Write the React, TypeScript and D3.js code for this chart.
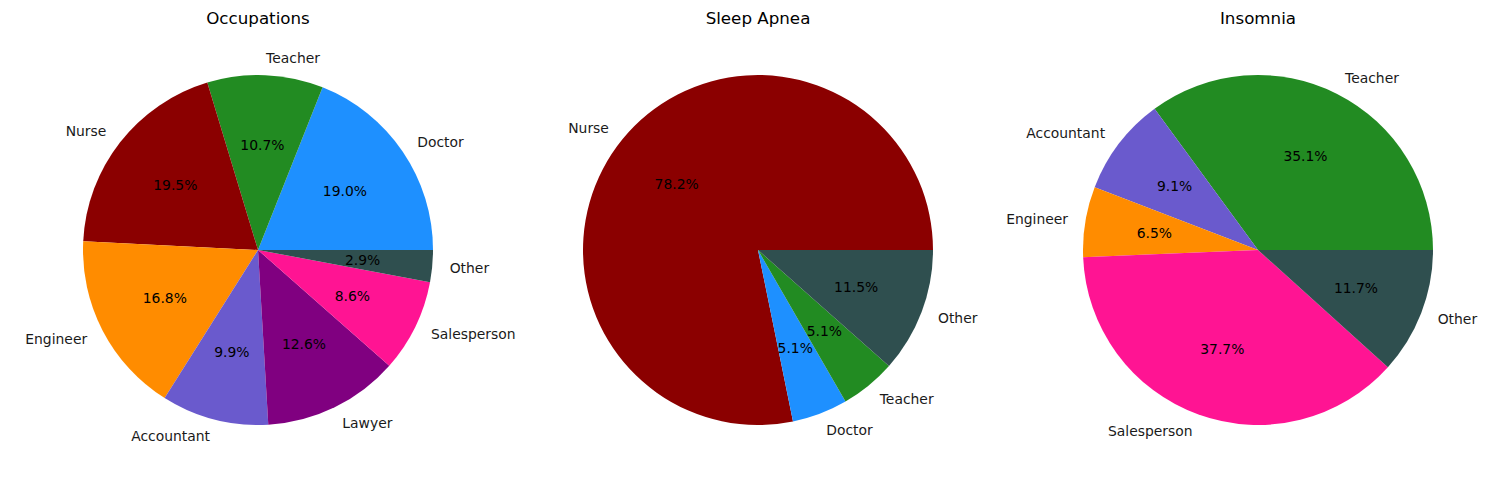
import React from "react";
import * as d3 from "d3";

// occupations pie (counts, shown as percentages)
const occLabels = ["Doctor", "Teacher", "Nurse", "Engineer", "Accountant", "Lawyer", "Salesperson", "Other"];
const occValues = [71, 40, 73, 63, 37, 47, 32, 11];

// sleep apnea pie
const apneaLabels = ["Nurse", "Doctor", "Teacher", "Other"];
const apneaValues = [61, 4, 4, 9];

// insomnia pie
const insomniaLabels = ["Teacher", "Accountant", "Engineer", "Salesperson", "Other"];
const insomniaValues = [27, 7, 5, 29, 9];

const titles = ["Occupations", "Sleep Apnea", "Insomnia"];

const color = d3
  .scaleOrdinal<string, string>()
  .domain(["Doctor", "Teacher", "Nurse", "Engineer", "Accountant", "Lawyer", "Salesperson", "Other"])
  .range(["#1e90ff", "#228b22", "#8b0000", "#ff8c00", "#6a5acd", "#800080", "#ff1493", "#2f4f4f"]);

const W = 1500;
const H = 500;
const radius = 175;
const font = "DejaVu Sans, sans-serif";

type PieProps = { labels: string[]; values: number[]; cx: number; cy: number; title: string };

const Pie = ({ labels, values, cx, cy, title }: PieProps) => {
  const rows = labels.map((l, i) => ({ label: l, value: values[i] }));
  // matplotlib style: start at 3 o'clock, go counterclockwise
  const arcs = d3
    .pie<{ label: string; value: number }>()
    .sort(null)
    .value((d) => d.value)
    .startAngle(Math.PI / 2)
    .endAngle(Math.PI / 2 - 2 * Math.PI)(rows);
  const arc = d3.arc<d3.PieArcDatum<{ label: string; value: number }>>().innerRadius(0).outerRadius(radius);
  const total = d3.sum(values);

  return (
    <g transform={`translate(${cx},${cy})`}>
      <text x={0} y={-232} textAnchor="middle" fontSize={16.7} fontFamily={font} fill="#000" dominantBaseline="central">
        {title}
      </text>
      {arcs.map((a) => (
        <path key={a.data.label} d={arc(a) || ""} fill={color(a.data.label)} />
      ))}
      {arcs.map((a) => {
        const mid = (a.startAngle + a.endAngle) / 2;
        const lx = Math.sin(mid) * radius * 1.1;
        const ly = -Math.cos(mid) * radius * 1.1;
        const px = Math.sin(mid) * radius * 0.6;
        const py = -Math.cos(mid) * radius * 0.6;
        return (
          <g key={"t" + a.data.label}>
            <text x={lx} y={ly} textAnchor={lx >= 0 ? "start" : "end"} dominantBaseline="central" fontSize={13.9} fontFamily={font} fill="#1a1a1a">
              {a.data.label}
            </text>
            <text x={px} y={py} textAnchor="middle" dominantBaseline="central" fontSize={13.9} fontFamily={font} fill="#000">
              {((a.data.value / total) * 100).toFixed(1) + "%"}
            </text>
          </g>
        );
      })}
    </g>
  );
};

const App = () => {
  return (
    <svg width={W} height={H} style={{ position: "absolute", left: 0, top: 0, background: "#fff" }}>
      <Pie labels={occLabels} values={occValues} cx={258} cy={250} title={titles[0]} />
      <Pie labels={apneaLabels} values={apneaValues} cx={758} cy={250} title={titles[1]} />
      <Pie labels={insomniaLabels} values={insomniaValues} cx={1258} cy={250} title={titles[2]} />
    </svg>
  );
};

export default App;
